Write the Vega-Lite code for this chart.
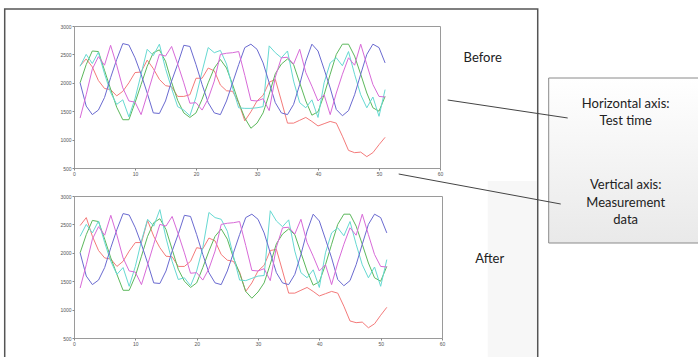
{
"$schema": "https://vega.github.io/schema/vega-lite/v6.json",
"padding": 0,
"background": "white",
"bounds": "flush",
"spacing": 28,
"config": {
  "view": {"stroke": "#9a9a9a", "strokeWidth": 1},
  "axis": {"domain": false, "grid": false, "tickColor": "#888", "tickSize": 2, "labelFontSize": 5, "labelColor": "#555", "labelFont": "Liberation Sans", "labelPadding": 1, "labelFlush": false, "labelOverlap": false, "format": "d"}
},
"resolve": {"scale": {"x": "independent", "y": "independent"}},
"datasets": {
"before": [
{"x":1,"s":"R","v":2300},{"x":2,"s":"R","v":2420},{"x":3,"s":"R","v":2280},{"x":4,"s":"R","v":2040},{"x":5,"s":"R","v":1900},{"x":6,"s":"R","v":1880},{"x":7,"s":"R","v":1770},{"x":8,"s":"R","v":1850},{"x":9,"s":"R","v":2000},{"x":10,"s":"R","v":2180},
{"x":11,"s":"R","v":2190},{"x":12,"s":"R","v":2400},{"x":13,"s":"R","v":2250},{"x":14,"s":"R","v":2060},{"x":15,"s":"R","v":1950},{"x":16,"s":"R","v":1930},{"x":17,"s":"R","v":1760},{"x":18,"s":"R","v":1760},{"x":19,"s":"R","v":1790},{"x":20,"s":"R","v":2080},
{"x":21,"s":"R","v":2080},{"x":22,"s":"R","v":2260},{"x":23,"s":"R","v":2210},{"x":24,"s":"R","v":1960},{"x":25,"s":"R","v":1860},{"x":26,"s":"R","v":1850},{"x":27,"s":"R","v":1650},{"x":28,"s":"R","v":1330},{"x":29,"s":"R","v":1490},{"x":30,"s":"R","v":1680},
{"x":31,"s":"R","v":1780},{"x":32,"s":"R","v":2010},{"x":33,"s":"R","v":2060},{"x":34,"s":"R","v":1680},{"x":35,"s":"R","v":1290},{"x":36,"s":"R","v":1290},{"x":37,"s":"R","v":1340},{"x":38,"s":"R","v":1390},{"x":39,"s":"R","v":1320},{"x":40,"s":"R","v":1240},
{"x":41,"s":"R","v":1280},{"x":42,"s":"R","v":1320},{"x":43,"s":"R","v":1290},{"x":44,"s":"R","v":1060},{"x":45,"s":"R","v":810},{"x":46,"s":"R","v":770},{"x":47,"s":"R","v":780},{"x":48,"s":"R","v":700},{"x":49,"s":"R","v":770},{"x":50,"s":"R","v":910},{"x":51,"s":"R","v":1040},
{"x":1,"s":"G","v":2000},{"x":2,"s":"G","v":2320},{"x":3,"s":"G","v":2560},{"x":4,"s":"G","v":2550},{"x":5,"s":"G","v":2220},{"x":6,"s":"G","v":1890},{"x":7,"s":"G","v":1570},{"x":8,"s":"G","v":1350},{"x":9,"s":"G","v":1350},{"x":10,"s":"G","v":1650},
{"x":11,"s":"G","v":1970},{"x":12,"s":"G","v":2290},{"x":13,"s":"G","v":2530},{"x":14,"s":"G","v":2580},{"x":15,"s":"G","v":2380},{"x":16,"s":"G","v":2010},{"x":17,"s":"G","v":1690},{"x":18,"s":"G","v":1470},{"x":19,"s":"G","v":1390},{"x":20,"s":"G","v":1470},
{"x":21,"s":"G","v":1710},{"x":22,"s":"G","v":2000},{"x":23,"s":"G","v":2260},{"x":24,"s":"G","v":2410},{"x":25,"s":"G","v":2260},{"x":26,"s":"G","v":1970},{"x":27,"s":"G","v":1650},{"x":28,"s":"G","v":1380},{"x":29,"s":"G","v":1200},{"x":30,"s":"G","v":1290},
{"x":31,"s":"G","v":1470},{"x":32,"s":"G","v":1800},{"x":33,"s":"G","v":2160},{"x":34,"s":"G","v":2330},{"x":35,"s":"G","v":2420},{"x":36,"s":"G","v":2320},{"x":37,"s":"G","v":2000},{"x":38,"s":"G","v":1680},{"x":39,"s":"G","v":1430},{"x":40,"s":"G","v":1490},
{"x":41,"s":"G","v":1790},{"x":42,"s":"G","v":2150},{"x":43,"s":"G","v":2500},{"x":44,"s":"G","v":2680},{"x":45,"s":"G","v":2680},{"x":46,"s":"G","v":2470},{"x":47,"s":"G","v":2150},{"x":48,"s":"G","v":1820},{"x":49,"s":"G","v":1560},{"x":50,"s":"G","v":1500},{"x":51,"s":"G","v":1760},
{"x":1,"s":"C","v":2290},{"x":2,"s":"C","v":2500},{"x":3,"s":"C","v":2340},{"x":4,"s":"C","v":2540},{"x":5,"s":"C","v":2160},{"x":6,"s":"C","v":1830},{"x":7,"s":"C","v":1620},{"x":8,"s":"C","v":1700},{"x":9,"s":"C","v":1400},{"x":10,"s":"C","v":1720},
{"x":11,"s":"C","v":2150},{"x":12,"s":"C","v":2590},{"x":13,"s":"C","v":2480},{"x":14,"s":"C","v":2680},{"x":15,"s":"C","v":2250},{"x":16,"s":"C","v":1900},{"x":17,"s":"C","v":1580},{"x":18,"s":"C","v":1520},{"x":19,"s":"C","v":1420},{"x":20,"s":"C","v":1750},
{"x":21,"s":"C","v":2200},{"x":22,"s":"C","v":2620},{"x":23,"s":"C","v":2530},{"x":24,"s":"C","v":2570},{"x":25,"s":"C","v":2330},{"x":26,"s":"C","v":1910},{"x":27,"s":"C","v":1560},{"x":28,"s":"C","v":1550},{"x":29,"s":"C","v":1550},{"x":30,"s":"C","v":1560},
{"x":31,"s":"C","v":1580},{"x":32,"s":"C","v":2650},{"x":33,"s":"C","v":2530},{"x":34,"s":"C","v":2440},{"x":35,"s":"C","v":2560},{"x":36,"s":"C","v":2030},{"x":37,"s":"C","v":1650},{"x":38,"s":"C","v":1560},{"x":39,"s":"C","v":1700},{"x":40,"s":"C","v":1390},
{"x":41,"s":"C","v":2000},{"x":42,"s":"C","v":2350},{"x":43,"s":"C","v":2440},{"x":44,"s":"C","v":2300},{"x":45,"s":"C","v":2550},{"x":46,"s":"C","v":2150},{"x":47,"s":"C","v":1790},{"x":48,"s":"C","v":1560},{"x":49,"s":"C","v":1750},{"x":50,"s":"C","v":1410},{"x":51,"s":"C","v":1880},
{"x":1,"s":"B","v":2000},{"x":2,"s":"B","v":1590},{"x":3,"s":"B","v":1440},{"x":4,"s":"B","v":1520},{"x":5,"s":"B","v":1740},{"x":6,"s":"B","v":2090},{"x":7,"s":"B","v":2410},{"x":8,"s":"B","v":2690},{"x":9,"s":"B","v":2665},{"x":10,"s":"B","v":2440},
{"x":11,"s":"B","v":2150},{"x":12,"s":"B","v":1820},{"x":13,"s":"B","v":1470},{"x":14,"s":"B","v":1460},{"x":15,"s":"B","v":1680},{"x":16,"s":"B","v":2030},{"x":17,"s":"B","v":2330},{"x":18,"s":"B","v":2660},{"x":19,"s":"B","v":2640},{"x":20,"s":"B","v":2320},
{"x":21,"s":"B","v":1970},{"x":22,"s":"B","v":1650},{"x":23,"s":"B","v":1470},{"x":24,"s":"B","v":1440},{"x":25,"s":"B","v":1680},{"x":26,"s":"B","v":2000},{"x":27,"s":"B","v":2320},{"x":28,"s":"B","v":2620},{"x":29,"s":"B","v":2680},{"x":30,"s":"B","v":2590},
{"x":31,"s":"B","v":2350},{"x":32,"s":"B","v":2000},{"x":33,"s":"B","v":1650},{"x":34,"s":"B","v":1470},{"x":35,"s":"B","v":1440},{"x":36,"s":"B","v":1620},{"x":37,"s":"B","v":1970},{"x":38,"s":"B","v":2380},{"x":39,"s":"B","v":2680},{"x":40,"s":"B","v":2560},
{"x":41,"s":"B","v":2240},{"x":42,"s":"B","v":1910},{"x":43,"s":"B","v":1530},{"x":44,"s":"B","v":1420},{"x":45,"s":"B","v":1510},{"x":46,"s":"B","v":1790},{"x":47,"s":"B","v":2150},{"x":48,"s":"B","v":2500},{"x":49,"s":"B","v":2680},{"x":50,"s":"B","v":2620},{"x":51,"s":"B","v":2350},
{"x":1,"s":"M","v":1380},{"x":2,"s":"M","v":1790},{"x":3,"s":"M","v":2240},{"x":4,"s":"M","v":2460},{"x":5,"s":"M","v":2310},{"x":6,"s":"M","v":2660},{"x":7,"s":"M","v":2310},{"x":8,"s":"M","v":1910},{"x":9,"s":"M","v":1680},{"x":10,"s":"M","v":1660},
{"x":11,"s":"M","v":1440},{"x":12,"s":"M","v":1790},{"x":13,"s":"M","v":2150},{"x":14,"s":"M","v":2500},{"x":15,"s":"M","v":2470},{"x":16,"s":"M","v":2640},{"x":17,"s":"M","v":2330},{"x":18,"s":"M","v":2000},{"x":19,"s":"M","v":1640},{"x":20,"s":"M","v":1650},
{"x":21,"s":"M","v":1520},{"x":22,"s":"M","v":1720},{"x":23,"s":"M","v":2030},{"x":24,"s":"M","v":2500},{"x":25,"s":"M","v":2520},{"x":26,"s":"M","v":2530},{"x":27,"s":"M","v":2550},{"x":28,"s":"M","v":2130},{"x":29,"s":"M","v":1690},{"x":30,"s":"M","v":1680},
{"x":31,"s":"M","v":1720},{"x":32,"s":"M","v":1510},{"x":33,"s":"M","v":2100},{"x":34,"s":"M","v":2440},{"x":35,"s":"M","v":2450},{"x":36,"s":"M","v":2330},{"x":37,"s":"M","v":2590},{"x":38,"s":"M","v":2180},{"x":39,"s":"M","v":1940},{"x":40,"s":"M","v":1680},
{"x":41,"s":"M","v":1790},{"x":42,"s":"M","v":1440},{"x":43,"s":"M","v":1820},{"x":44,"s":"M","v":2150},{"x":45,"s":"M","v":2440},{"x":46,"s":"M","v":2310},{"x":47,"s":"M","v":2680},{"x":48,"s":"M","v":2320},{"x":49,"s":"M","v":1970},{"x":50,"s":"M","v":1760},{"x":51,"s":"M","v":1750}
],
"after": [
{"x":1,"s":"R","v":2480},{"x":2,"s":"R","v":2620},{"x":3,"s":"R","v":2290},{"x":4,"s":"R","v":2040},{"x":5,"s":"R","v":1910},{"x":6,"s":"R","v":1890},{"x":7,"s":"R","v":1760},{"x":8,"s":"R","v":1850},{"x":9,"s":"R","v":2030},{"x":10,"s":"R","v":2180},
{"x":11,"s":"R","v":2180},{"x":12,"s":"R","v":2570},{"x":13,"s":"R","v":2290},{"x":14,"s":"R","v":2090},{"x":15,"s":"R","v":1940},{"x":16,"s":"R","v":1930},{"x":17,"s":"R","v":1760},{"x":18,"s":"R","v":1760},{"x":19,"s":"R","v":1850},{"x":20,"s":"R","v":2090},
{"x":21,"s":"R","v":2070},{"x":22,"s":"R","v":2260},{"x":23,"s":"R","v":2210},{"x":24,"s":"R","v":1970},{"x":25,"s":"R","v":1870},{"x":26,"s":"R","v":1850},{"x":27,"s":"R","v":1660},{"x":28,"s":"R","v":1320},{"x":29,"s":"R","v":1470},{"x":30,"s":"R","v":1680},
{"x":31,"s":"R","v":1780},{"x":32,"s":"R","v":2040},{"x":33,"s":"R","v":2060},{"x":34,"s":"R","v":1680},{"x":35,"s":"R","v":1290},{"x":36,"s":"R","v":1290},{"x":37,"s":"R","v":1340},{"x":38,"s":"R","v":1390},{"x":39,"s":"R","v":1320},{"x":40,"s":"R","v":1240},
{"x":41,"s":"R","v":1280},{"x":42,"s":"R","v":1320},{"x":43,"s":"R","v":1290},{"x":44,"s":"R","v":1060},{"x":45,"s":"R","v":800},{"x":46,"s":"R","v":770},{"x":47,"s":"R","v":780},{"x":48,"s":"R","v":680},{"x":49,"s":"R","v":750},{"x":50,"s":"R","v":900},{"x":51,"s":"R","v":1040},
{"x":1,"s":"G","v":2000},{"x":2,"s":"G","v":2320},{"x":3,"s":"G","v":2570},{"x":4,"s":"G","v":2550},{"x":5,"s":"G","v":2240},{"x":6,"s":"G","v":1910},{"x":7,"s":"G","v":1620},{"x":8,"s":"G","v":1340},{"x":9,"s":"G","v":1340},{"x":10,"s":"G","v":1590},
{"x":11,"s":"G","v":1940},{"x":12,"s":"G","v":2290},{"x":13,"s":"G","v":2530},{"x":14,"s":"G","v":2600},{"x":15,"s":"G","v":2410},{"x":16,"s":"G","v":2060},{"x":17,"s":"G","v":1710},{"x":18,"s":"G","v":1500},{"x":19,"s":"G","v":1390},{"x":20,"s":"G","v":1470},
{"x":21,"s":"G","v":1740},{"x":22,"s":"G","v":2030},{"x":23,"s":"G","v":2290},{"x":24,"s":"G","v":2420},{"x":25,"s":"G","v":2240},{"x":26,"s":"G","v":1910},{"x":27,"s":"G","v":1640},{"x":28,"s":"G","v":1320},{"x":29,"s":"G","v":1200},{"x":30,"s":"G","v":1310},
{"x":31,"s":"G","v":1470},{"x":32,"s":"G","v":1800},{"x":33,"s":"G","v":2160},{"x":34,"s":"G","v":2330},{"x":35,"s":"G","v":2420},{"x":36,"s":"G","v":2320},{"x":37,"s":"G","v":2000},{"x":38,"s":"G","v":1680},{"x":39,"s":"G","v":1430},{"x":40,"s":"G","v":1490},
{"x":41,"s":"G","v":1790},{"x":42,"s":"G","v":2150},{"x":43,"s":"G","v":2500},{"x":44,"s":"G","v":2680},{"x":45,"s":"G","v":2680},{"x":46,"s":"G","v":2470},{"x":47,"s":"G","v":2150},{"x":48,"s":"G","v":1820},{"x":49,"s":"G","v":1560},{"x":50,"s":"G","v":1500},{"x":51,"s":"G","v":1760},
{"x":1,"s":"C","v":2290},{"x":2,"s":"C","v":2500},{"x":3,"s":"C","v":2350},{"x":4,"s":"C","v":2560},{"x":5,"s":"C","v":2180},{"x":6,"s":"C","v":1850},{"x":7,"s":"C","v":1620},{"x":8,"s":"C","v":1740},{"x":9,"s":"C","v":1410},{"x":10,"s":"C","v":1760},
{"x":11,"s":"C","v":2210},{"x":12,"s":"C","v":2590},{"x":13,"s":"C","v":2470},{"x":14,"s":"C","v":2760},{"x":15,"s":"C","v":2260},{"x":16,"s":"C","v":1850},{"x":17,"s":"C","v":1530},{"x":18,"s":"C","v":1560},{"x":19,"s":"C","v":1420},{"x":20,"s":"C","v":1680},
{"x":21,"s":"C","v":2090},{"x":22,"s":"C","v":2710},{"x":23,"s":"C","v":2620},{"x":24,"s":"C","v":2590},{"x":25,"s":"C","v":2380},{"x":26,"s":"C","v":1940},{"x":27,"s":"C","v":1520},{"x":28,"s":"C","v":1510},{"x":29,"s":"C","v":1550},{"x":30,"s":"C","v":1590},
{"x":31,"s":"C","v":1600},{"x":32,"s":"C","v":2740},{"x":33,"s":"C","v":2560},{"x":34,"s":"C","v":2460},{"x":35,"s":"C","v":2580},{"x":36,"s":"C","v":2030},{"x":37,"s":"C","v":1650},{"x":38,"s":"C","v":1560},{"x":39,"s":"C","v":1700},{"x":40,"s":"C","v":1390},
{"x":41,"s":"C","v":2000},{"x":42,"s":"C","v":2350},{"x":43,"s":"C","v":2440},{"x":44,"s":"C","v":2300},{"x":45,"s":"C","v":2550},{"x":46,"s":"C","v":2150},{"x":47,"s":"C","v":1790},{"x":48,"s":"C","v":1560},{"x":49,"s":"C","v":1750},{"x":50,"s":"C","v":1410},{"x":51,"s":"C","v":1880},
{"x":1,"s":"B","v":2000},{"x":2,"s":"B","v":1590},{"x":3,"s":"B","v":1440},{"x":4,"s":"B","v":1520},{"x":5,"s":"B","v":1740},{"x":6,"s":"B","v":2090},{"x":7,"s":"B","v":2410},{"x":8,"s":"B","v":2690},{"x":9,"s":"B","v":2665},{"x":10,"s":"B","v":2440},
{"x":11,"s":"B","v":2150},{"x":12,"s":"B","v":1820},{"x":13,"s":"B","v":1470},{"x":14,"s":"B","v":1460},{"x":15,"s":"B","v":1680},{"x":16,"s":"B","v":2030},{"x":17,"s":"B","v":2330},{"x":18,"s":"B","v":2660},{"x":19,"s":"B","v":2640},{"x":20,"s":"B","v":2320},
{"x":21,"s":"B","v":1970},{"x":22,"s":"B","v":1650},{"x":23,"s":"B","v":1470},{"x":24,"s":"B","v":1440},{"x":25,"s":"B","v":1680},{"x":26,"s":"B","v":2000},{"x":27,"s":"B","v":2320},{"x":28,"s":"B","v":2620},{"x":29,"s":"B","v":2680},{"x":30,"s":"B","v":2590},
{"x":31,"s":"B","v":2350},{"x":32,"s":"B","v":2000},{"x":33,"s":"B","v":1650},{"x":34,"s":"B","v":1470},{"x":35,"s":"B","v":1440},{"x":36,"s":"B","v":1620},{"x":37,"s":"B","v":1970},{"x":38,"s":"B","v":2380},{"x":39,"s":"B","v":2680},{"x":40,"s":"B","v":2560},
{"x":41,"s":"B","v":2240},{"x":42,"s":"B","v":1910},{"x":43,"s":"B","v":1530},{"x":44,"s":"B","v":1420},{"x":45,"s":"B","v":1510},{"x":46,"s":"B","v":1790},{"x":47,"s":"B","v":2150},{"x":48,"s":"B","v":2500},{"x":49,"s":"B","v":2680},{"x":50,"s":"B","v":2620},{"x":51,"s":"B","v":2350},
{"x":1,"s":"M","v":1380},{"x":2,"s":"M","v":1790},{"x":3,"s":"M","v":2240},{"x":4,"s":"M","v":2460},{"x":5,"s":"M","v":2310},{"x":6,"s":"M","v":2660},{"x":7,"s":"M","v":2310},{"x":8,"s":"M","v":1910},{"x":9,"s":"M","v":1680},{"x":10,"s":"M","v":1660},
{"x":11,"s":"M","v":1440},{"x":12,"s":"M","v":1790},{"x":13,"s":"M","v":2150},{"x":14,"s":"M","v":2500},{"x":15,"s":"M","v":2470},{"x":16,"s":"M","v":2640},{"x":17,"s":"M","v":2330},{"x":18,"s":"M","v":2000},{"x":19,"s":"M","v":1640},{"x":20,"s":"M","v":1650},
{"x":21,"s":"M","v":1520},{"x":22,"s":"M","v":1720},{"x":23,"s":"M","v":2030},{"x":24,"s":"M","v":2500},{"x":25,"s":"M","v":2520},{"x":26,"s":"M","v":2530},{"x":27,"s":"M","v":2550},{"x":28,"s":"M","v":2130},{"x":29,"s":"M","v":1690},{"x":30,"s":"M","v":1680},
{"x":31,"s":"M","v":1720},{"x":32,"s":"M","v":1510},{"x":33,"s":"M","v":2100},{"x":34,"s":"M","v":2440},{"x":35,"s":"M","v":2450},{"x":36,"s":"M","v":2330},{"x":37,"s":"M","v":2590},{"x":38,"s":"M","v":2180},{"x":39,"s":"M","v":1940},{"x":40,"s":"M","v":1680},
{"x":41,"s":"M","v":1790},{"x":42,"s":"M","v":1440},{"x":43,"s":"M","v":1820},{"x":44,"s":"M","v":2150},{"x":45,"s":"M","v":2440},{"x":46,"s":"M","v":2310},{"x":47,"s":"M","v":2680},{"x":48,"s":"M","v":2320},{"x":49,"s":"M","v":1970},{"x":50,"s":"M","v":1760},{"x":51,"s":"M","v":1750}
]
},
"vconcat": [
{
  "width": 366,
  "height": 142,
  "layer": [
    {
      "data": {"values": [{"ax": -12.02, "ax2": 102.41, "ay": 3440.1, "ay2": -2845.2}]},
      "mark": {"type": "rect", "fill": "white", "opacity": 0},
      "encoding": {
        "x": {"field": "ax", "type": "quantitative", "scale": {"domain": [0, 60], "nice": false, "zero": false}, "axis": {"values": [0, 10, 20, 30, 40, 50, 60], "title": null}},
        "x2": {"field": "ax2"},
        "y": {"field": "ay", "type": "quantitative", "scale": {"domain": [500, 3000], "nice": false, "zero": false}, "axis": {"values": [500, 1000, 1500, 2000, 2500, 3000], "title": null}},
        "y2": {"field": "ay2"}
      }
    },
    {
      "data": {"values": [{"ax": 67.82, "ax2": 75.85, "ay": 271, "ay2": -2898}]},
      "mark": {"type": "rect", "fill": "#f7f7f7"},
      "encoding": {
        "x": {"field": "ax", "type": "quantitative", "scale": {"domain": [0, 60], "nice": false, "zero": false}, "axis": {"values": [0, 10, 20, 30, 40, 50, 60], "title": null}},
        "x2": {"field": "ax2"},
        "y": {"field": "ay", "type": "quantitative", "scale": {"domain": [500, 3000], "nice": false, "zero": false}, "axis": {"values": [500, 1000, 1500, 2000, 2500, 3000], "title": null}},
        "y2": {"field": "ay2"}
      }
    },
    {
      "data": {"values": [{"ax": -11.36, "ax2": 76.02, "ay": 3299.3, "ay2": -2898}]},
      "mark": {"type": "rect", "fillOpacity": 0, "stroke": "#555555", "strokeWidth": 1.5},
      "encoding": {
        "x": {"field": "ax", "type": "quantitative", "scale": {"domain": [0, 60], "nice": false, "zero": false}, "axis": {"values": [0, 10, 20, 30, 40, 50, 60], "title": null}},
        "x2": {"field": "ax2"},
        "y": {"field": "ay", "type": "quantitative", "scale": {"domain": [500, 3000], "nice": false, "zero": false}, "axis": {"values": [500, 1000, 1500, 2000, 2500, 3000], "title": null}},
        "y2": {"field": "ay2"}
      }
    },
    {
      "data": {"values": [{"ax": 77.82, "ax2": 102.74, "ay": 2084.5, "ay2": -820.5}]},
      "mark": {"type": "rect", "stroke": "#8a8a8a", "strokeWidth": 1,
        "fill": {"gradient": "linear", "x1": 0, "y1": 0, "x2": 0, "y2": 1, "stops": [{"offset": 0, "color": "#ffffff"}, {"offset": 1, "color": "#e9e9e9"}]}},
      "encoding": {
        "x": {"field": "ax", "type": "quantitative", "scale": {"domain": [0, 60], "nice": false, "zero": false}, "axis": {"values": [0, 10, 20, 30, 40, 50, 60], "title": null}},
        "x2": {"field": "ax2"},
        "y": {"field": "ay", "type": "quantitative", "scale": {"domain": [500, 3000], "nice": false, "zero": false}, "axis": {"values": [500, 1000, 1500, 2000, 2500, 3000], "title": null}},
        "y2": {"field": "ay2"}
      }
    },
    {
      "data": {"name": "before"},
      "mark": {"type": "line", "strokeWidth": 1},
      "encoding": {
        "x": {"field": "x", "type": "quantitative", "scale": {"domain": [0, 60], "nice": false, "zero": false}, "axis": {"values": [0, 10, 20, 30, 40, 50, 60], "title": null}},
        "y": {"field": "v", "type": "quantitative", "scale": {"domain": [500, 3000], "nice": false, "zero": false}, "axis": {"values": [500, 1000, 1500, 2000, 2500, 3000], "title": null}},
        "color": {"field": "s", "type": "nominal", "scale": {"domain": ["R", "G", "C", "B", "M"], "range": ["#f47a7a", "#5cb85c", "#66d9d2", "#6a6ad0", "#d86ad8"]}, "legend": null}
      }
    },
    {
      "data": {"values": [{"ax": 61.26, "ay": 1697.2, "ax2": 80.93, "ay2": 1380.3}, {"ax": 53.23, "ay": 394.3, "ax2": 79.79, "ay2": -133.9}]},
      "mark": {"type": "rule", "color": "#444444", "strokeWidth": 1},
      "encoding": {
        "x": {"field": "ax", "type": "quantitative", "scale": {"domain": [0, 60], "nice": false, "zero": false}, "axis": {"values": [0, 10, 20, 30, 40, 50, 60], "title": null}},
        "x2": {"field": "ax2"},
        "y": {"field": "ay", "type": "quantitative", "scale": {"domain": [500, 3000], "nice": false, "zero": false}, "axis": {"values": [500, 1000, 1500, 2000, 2500, 3000], "title": null}},
        "y2": {"field": "ay2"}
      }
    },
    {
      "data": {"values": [
        {"ax": 67.0, "ay": 2436.6, "t": "Before"},
        {"ax": 68.15, "ay": -1102.2, "t": "After"},
        {"ax": 90.44, "ay": 1626.7, "t": "Horizontal axis:"},
        {"ax": 90.44, "ay": 1327.4, "t": "Test time"},
        {"ax": 90.44, "ay": 200.6, "t": "Vertical axis:"},
        {"ax": 90.44, "ay": -116.3, "t": "Measurement"},
        {"ax": 90.44, "ay": -415.6, "t": "data"}
      ]},
      "mark": {"type": "text", "font": "Lato", "fontSize": 13, "color": "#222222", "align": "center", "baseline": "middle"},
      "encoding": {
        "x": {"field": "ax", "type": "quantitative", "scale": {"domain": [0, 60], "nice": false, "zero": false}, "axis": {"values": [0, 10, 20, 30, 40, 50, 60], "title": null}},
        "y": {"field": "ay", "type": "quantitative", "scale": {"domain": [500, 3000], "nice": false, "zero": false}, "axis": {"values": [500, 1000, 1500, 2000, 2500, 3000], "title": null}},
        "text": {"field": "t"}
      }
    }
  ]
},
{
  "width": 368,
  "height": 142,
  "data": {"name": "after"},
  "mark": {"type": "line", "strokeWidth": 1},
  "encoding": {
    "x": {"field": "x", "type": "quantitative", "scale": {"domain": [0, 60], "nice": false, "zero": false}, "axis": {"values": [0, 10, 20, 30, 40, 50, 60], "title": null}},
    "y": {"field": "v", "type": "quantitative", "scale": {"domain": [500, 3000], "nice": false, "zero": false}, "axis": {"values": [500, 1000, 1500, 2000, 2500, 3000], "title": null}},
    "color": {"field": "s", "type": "nominal", "scale": {"domain": ["R", "G", "C", "B", "M"], "range": ["#f47a7a", "#5cb85c", "#66d9d2", "#6a6ad0", "#d86ad8"]}, "legend": null}
  }
}
]
}
